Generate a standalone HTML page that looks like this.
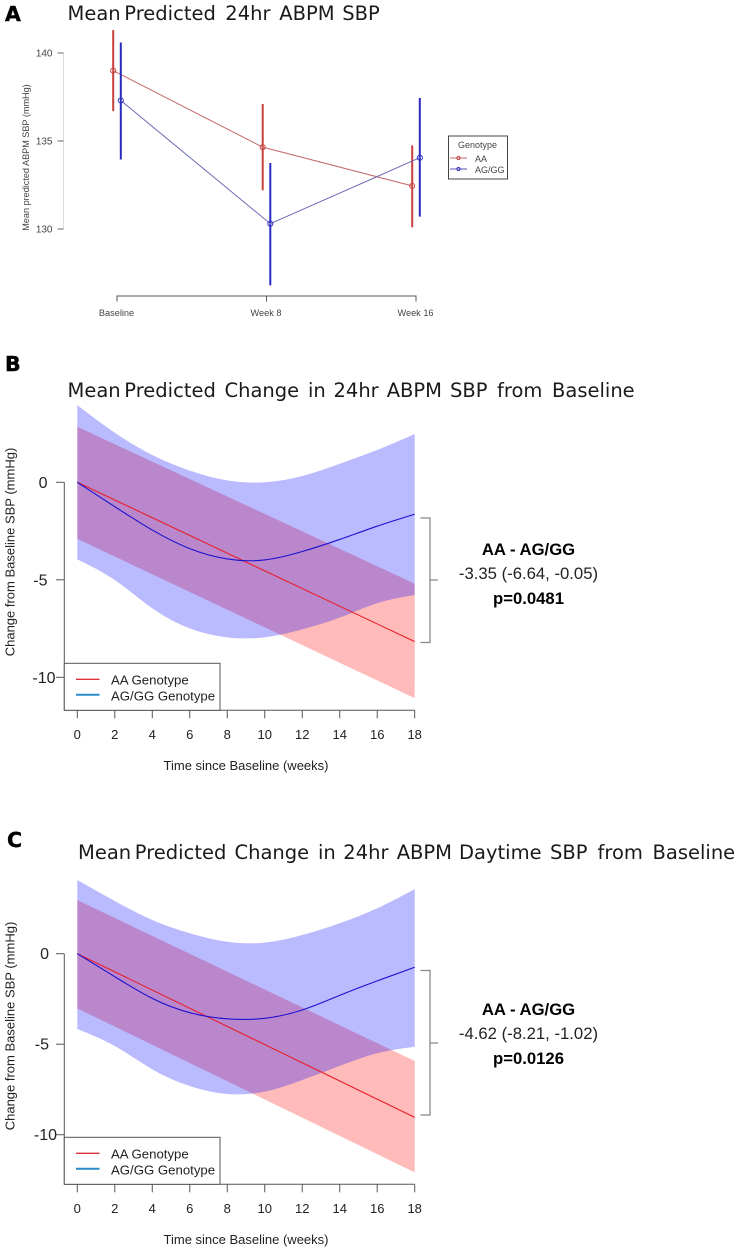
<!DOCTYPE html>
<html lang="en">
<head>
<meta charset="utf-8">
<title>Mean Predicted ABPM SBP by Genotype</title>
<style>
  html, body { margin: 0; padding: 0; background: #fff; }
  svg { display: block; }
  text { font-family: "Liberation Sans", Arial, sans-serif; }
  .title { font-family: "DejaVu Sans", Verdana, sans-serif; font-size: 19.5px; fill: #1a1a1a; }
  .letter { font-family: "DejaVu Sans", Verdana, sans-serif; font-weight: bold; font-size: 20.5px; fill: #000; stroke: #000; stroke-width: 0.4px; }
  .note { font-size: 16.7px; fill: #222; text-anchor: middle; }
  .note-b { font-weight: bold; fill: #000; }
</style>
</head>
<body>
<svg id="figure" xmlns="http://www.w3.org/2000/svg" width="738" height="1254" viewBox="0 0 738 1254">
  <rect x="0" y="0" width="738" height="1254" fill="#fff"/>

  <text class="letter" x="5" y="21">A</text>
  <text class="title" y="20"><tspan x="67.5">Mean </tspan><tspan x="124.3">Predicted </tspan><tspan x="225.3">24hr </tspan><tspan x="279.3">ABPM </tspan><tspan x="342.3">SBP</tspan></text>

  <text class="letter" x="5" y="371">B</text>
  <text class="title" y="397"><tspan x="67.5">Mean </tspan><tspan x="124.3">Predicted </tspan><tspan x="224.5">Change </tspan><tspan x="308">in </tspan><tspan x="333.5">24hr </tspan><tspan x="386.7">ABPM </tspan><tspan x="450">SBP </tspan><tspan x="497">from </tspan><tspan x="552">Baseline</tspan></text>

  <text class="letter" x="7" y="847">C</text>
  <text class="title" y="859"><tspan x="78">Mean </tspan><tspan x="134.8">Predicted </tspan><tspan x="234.5">Change </tspan><tspan x="318">in </tspan><tspan x="343.3">24hr </tspan><tspan x="396.7">ABPM </tspan><tspan x="459">Daytime </tspan><tspan x="550">SBP </tspan><tspan x="597.5">from </tspan><tspan x="652.5">Baseline</tspan></text>

  <g id="panel-a"></g>
  <g id="panel-b"></g>
  <g id="panel-c"></g>

  <text class="note note-b" x="528.5" y="555">AA - AG/GG</text>
  <text class="note" x="528.5" y="579">-3.35 (-6.64, -0.05)</text>
  <text class="note note-b" x="528.5" y="604">p=0.0481</text>

  <text class="note note-b" x="528.5" y="1015">AA - AG/GG</text>
  <text class="note" x="528.5" y="1039">-4.62 (-8.21, -1.02)</text>
  <text class="note note-b" x="528.5" y="1064">p=0.0126</text>
</svg>

<script>
// Panel A data
const aVisits = ['Baseline', 'Week 8', 'Week 16'];
const aYTicks = [130, 135, 140];
const aMeanAA = [139.0, 134.65, 132.45];
const aHighAA = [141.3, 137.1, 134.75];
const aLowAA = [136.7, 132.2, 130.1];
const aMeanAG = [137.3, 130.3, 134.05];
const aHighAG = [140.6, 133.75, 137.45];
const aLowAG = [133.95, 126.8, 130.7];

// Shared time axis for panels B and C
const timeTicks = [0, 2, 4, 6, 8, 10, 12, 14, 16, 18];
const lineWeeks = [0, 18];
const curveWeeks = [0, 2, 4, 6, 8, 10, 12, 14, 16, 18];

// Panel B data
const bYTicks = [0, -5, -10];
const bMeanAA = [0, -8.17];
const bHighAA = [2.85, -5.2];
const bLowAA = [-2.9, -11.07];
const bMeanAG = [0, -1.25, -2.45, -3.4, -3.93, -3.98, -3.55, -2.93, -2.25, -1.64];
const bHighAG = [3.96, 2.54, 1.4, 0.6, 0.1, 0, 0.32, 0.95, 1.66, 2.48];
const bLowAG = [-3.95, -5.01, -6.46, -7.49, -7.95, -7.95, -7.54, -6.94, -6.2, -5.78];

// Panel C data
const cYTicks = [0, -5, -10];
const cMeanAA = [0, -9.04];
const cHighAA = [2.96, -5.93];
const cLowAA = [-3.02, -12.08];
const cMeanAG = [0, -1.27, -2.47, -3.26, -3.6, -3.57, -3.11, -2.3, -1.5, -0.75];
const cHighAG = [4.07, 2.91, 1.86, 1.13, 0.66, 0.61, 1.03, 1.68, 2.51, 3.57];
const cLowAG = [-4.16, -5.1, -6.39, -7.31, -7.75, -7.62, -6.98, -6.2, -5.5, -5.14];

const SVG_NS = 'http://www.w3.org/2000/svg';

function make(parent, tag, attrs, text) {
  const el = document.createElementNS(SVG_NS, tag);
  for (const key in attrs) el.setAttribute(key, attrs[key]);
  if (text !== undefined) el.textContent = text;
  parent.appendChild(el);
  return el;
}

// Natural cubic spline through the points, emitted as bezier segments
function smoothSegments(points) {
  const n = points.length;
  if (n === 2) return 'L' + points[1][0] + ' ' + points[1][1];
  const h = [], d = [];
  for (let i = 0; i < n - 1; i++) {
    h.push(points[i + 1][0] - points[i][0]);
    d.push((points[i + 1][1] - points[i][1]) / h[i]);
  }
  const c = new Array(n).fill(0), r = new Array(n).fill(0), M = new Array(n).fill(0);
  for (let i = 1; i < n - 1; i++) {
    const diag = 2 * (h[i - 1] + h[i]) - h[i - 1] * c[i - 1];
    c[i] = h[i] / diag;
    r[i] = (6 * (d[i] - d[i - 1]) - h[i - 1] * r[i - 1]) / diag;
  }
  for (let i = n - 2; i > 0; i--) M[i] = r[i] - c[i] * M[i + 1];
  let path = '';
  for (let i = 0; i < n - 1; i++) {
    const m0 = d[i] - h[i] * (2 * M[i] + M[i + 1]) / 6;
    const m1 = d[i] + h[i] * (M[i] + 2 * M[i + 1]) / 6;
    const t = h[i] / 3;
    path += 'C' + (points[i][0] + t) + ' ' + (points[i][1] + m0 * t) + ' ' +
      (points[i + 1][0] - t) + ' ' + (points[i + 1][1] - m1 * t) + ' ' +
      points[i + 1][0] + ' ' + points[i + 1][1];
  }
  return path;
}

function linePath(points) {
  return 'M' + points[0][0] + ' ' + points[0][1] + smoothSegments(points);
}

function bandPath(upper, lower) {
  const back = lower.slice().reverse();
  return linePath(upper) + 'L' + back[0][0] + ' ' + back[0][1] + smoothSegments(back) + 'Z';
}

function zip(xs, ys, xFn, yFn) {
  return xs.map((x, i) => [xFn(x), yFn(ys[i])]);
}

/* ---------- Panel A ---------- */
(function () {
  const g = document.getElementById('panel-a');
  const xIdx = i => 117 + i * 149.5;
  const yVal = v => 53 + (140 - v) * 17.6;
  const axisColor = '#555';

  const yAxis = make(g, 'path', {
    d: 'M63.5 ' + yVal(aYTicks[0]) + 'V' + yVal(aYTicks[aYTicks.length - 1]),
    stroke: '#ddd', 'stroke-width': 1, fill: 'none'
  });
  
  

  aYTicks.forEach(t => {
    const tick = make(g, 'line', { x1: 57.5, x2: 63.5, y1: yVal(t), y2: yVal(t), stroke: axisColor, 'stroke-width': 0.9 });
    
    
    const label = make(g, 'text', { x: 52.5, y: yVal(t) + 3.5, 'text-anchor': 'end', 'font-size': 10, fill: '#444' }, String(t));
    
    
  });

  const yTitle = make(g, 'text', {
    transform: 'translate(29 157.5) rotate(-90)', 'text-anchor': 'middle', 'font-size': 9.1, fill: '#444'
  }, 'Mean predicted ABPM SBP (mmHg)');
  
  

  const xAxis = make(g, 'path', {
    d: 'M' + xIdx(0) + ' 301.5V296H' + xIdx(aVisits.length - 1) + 'V301.5', stroke: axisColor, 'stroke-width': 1, fill: 'none'
  });
  
  

  aVisits.forEach((name, i) => {
    if (i === 1) {
      const tick = make(g, 'line', { x1: xIdx(i), x2: xIdx(i), y1: 296, y2: 301.5, stroke: axisColor, 'stroke-width': 1 });
      
      
    }
    const label = make(g, 'text', { x: xIdx(i) - 0.5, y: 316, 'text-anchor': 'middle', 'font-size': 9.2, fill: '#444' }, name);
    
    
  });

  function series(key, mean, high, low, offset, barColor, lineColor) {
    const pts = mean.map((v, i) => [xIdx(i) + offset, yVal(v)]);
    high.forEach((v, i) => {
      const bar = make(g, 'line', {
        x1: pts[i][0], x2: pts[i][0], y1: yVal(v), y2: yVal(low[i]), stroke: barColor, 'stroke-width': 2
      });
      
      
    });
    const line = make(g, 'polyline', {
      points: pts.map(p => p.join(',')).join(' '), fill: 'none', stroke: lineColor, 'stroke-width': 1
    });
    
    
    pts.forEach(p => {
      const dot = make(g, 'circle', { cx: p[0], cy: p[1], r: 2.6, fill: 'none', stroke: barColor, 'stroke-width': 0.9 });
      
      
    });
  }
  series('aa', aMeanAA, aHighAA, aLowAA, -3.8, '#c8403c', '#c46a68');
  series('ag-gg', aMeanAG, aHighAG, aLowAG, 3.8, '#2a2ac0', '#6a6ab4');

  const legend = make(g, 'g', {});
  
  
  make(legend, 'rect', { x: 448.5, y: 136, width: 59, height: 43, fill: '#fff', stroke: '#444', 'stroke-width': 1 });
  make(legend, 'text', { x: 477.5, y: 148, 'text-anchor': 'middle', 'font-size': 9, fill: '#444' }, 'Genotype');
  make(legend, 'line', { x1: 450, x2: 467, y1: 158, y2: 158, stroke: '#c46a68', 'stroke-width': 1 });
  make(legend, 'circle', { cx: 458.5, cy: 158, r: 1.6, fill: 'none', stroke: '#c8403c', 'stroke-width': 0.9 });
  make(legend, 'text', { x: 475, y: 162, 'font-size': 9, fill: '#444' }, 'AA');
  make(legend, 'line', { x1: 450, x2: 467, y1: 169, y2: 169, stroke: '#5a5ab8', 'stroke-width': 1 });
  make(legend, 'circle', { cx: 458.5, cy: 169, r: 1.6, fill: 'none', stroke: '#2a2ac0', 'stroke-width': 0.9 });
  make(legend, 'text', { x: 475, y: 173, 'font-size': 9, fill: '#444' }, 'AG/GG');
})();

/* ---------- Panels B and C ---------- */
function changePanel(opts) {
  const g = document.getElementById(opts.id);
  const p = opts.prefix;
  const xT = t => 77.3 + t * (414.7 - 77.3) / 18;
  const yV = v => opts.y0 - v * opts.scale;
  const axisColor = '#555';

  const bandAA = make(g, 'path', {
    d: bandPath(zip(lineWeeks, opts.highAA, xT, yV), zip(lineWeeks, opts.lowAA, xT, yV)),
    fill: 'rgb(255,0,0)', 'fill-opacity': 0.27
  });
  
  

  const bandAG = make(g, 'path', {
    d: bandPath(zip(curveWeeks, opts.highAG, xT, yV), zip(curveWeeks, opts.lowAG, xT, yV)),
    fill: 'rgb(0,0,255)', 'fill-opacity': 0.27
  });
  
  

  const lineAA = make(g, 'path', {
    d: linePath(zip(lineWeeks, opts.meanAA, xT, yV)), fill: 'none', stroke: '#e8202c', 'stroke-width': 1.1
  });
  
  

  const lineAG = make(g, 'path', {
    d: linePath(zip(curveWeeks, opts.meanAG, xT, yV)), fill: 'none', stroke: '#1c10d0', 'stroke-width': 1.1
  });
  
  

  const top = yV(opts.yTicks[0]);
  const yAxis = make(g, 'line', { x1: 64.3, x2: 64.3, y1: top, y2: opts.axisY, stroke: axisColor, 'stroke-width': 1 });
  
  

  opts.yTicks.forEach(t => {
    const tick = make(g, 'line', { x1: 56, x2: 64.3, y1: yV(t), y2: yV(t), stroke: axisColor, 'stroke-width': 1 });
    
    
    const labelX = opts.yLabelX + (Math.abs(t) >= 10 ? 8 : 0);
    const label = make(g, 'text', { x: labelX, y: yV(t) + 5.5, 'text-anchor': 'end', 'font-size': 16, fill: '#222' }, String(t));
    
    
  });

  const yTitle = make(g, 'text', {
    transform: 'translate(14.5 ' + opts.yTitleMid + ') rotate(-90)', 'text-anchor': 'middle', 'font-size': 13, fill: '#222'
  }, 'Change from Baseline SBP (mmHg)');
  
  

  const xAxis = make(g, 'line', { x1: 64.3, x2: xT(18), y1: opts.axisY, y2: opts.axisY, stroke: axisColor, 'stroke-width': 1 });
  
  

  timeTicks.forEach(t => {
    const tick = make(g, 'line', { x1: xT(t), x2: xT(t), y1: opts.axisY, y2: opts.axisY + 8, stroke: axisColor, 'stroke-width': 1 });
    
    
    const label = make(g, 'text', { x: xT(t), y: opts.axisY + 28.5, 'text-anchor': 'middle', 'font-size': 13, fill: '#222' }, String(t));
    
    
  });

  const xTitle = make(g, 'text', {
    x: 246, y: opts.axisY + 59.5, 'text-anchor': 'middle', 'font-size': 13, fill: '#222'
  }, 'Time since Baseline (weeks)');
  
  

  const legend = make(g, 'g', {});
  
  
  const ly = opts.axisY - 47;
  make(legend, 'rect', { x: 64.3, y: ly, width: 155.7, height: 47, fill: '#fff', stroke: axisColor, 'stroke-width': 1 });
  make(legend, 'line', { x1: 76, x2: 99.5, y1: ly + 16, y2: ly + 16, stroke: '#e0303c', 'stroke-width': 1.4 });
  make(legend, 'text', { x: 111, y: ly + 21, 'font-size': 13.2, fill: '#222' }, 'AA Genotype');
  make(legend, 'line', { x1: 76, x2: 99.5, y1: ly + 31.5, y2: ly + 31.5, stroke: '#2a8cc8', 'stroke-width': 2 });
  make(legend, 'text', { x: 111, y: ly + 37, 'font-size': 13.2, fill: '#222' }, 'AG/GG Genotype');

  const bracket = make(g, 'path', {
    d: 'M420.5 ' + opts.brTop + 'H430V' + opts.brBottom + 'H420.5M430 ' + opts.brMid + 'H438',
    fill: 'none', stroke: '#888', 'stroke-width': 1.3
  });
  
  
}

changePanel({
  id: 'panel-b', prefix: 'panel-b', y0: 482.3, scale: 19.5, axisY: 710.3,
  yTicks: bYTicks, yLabelX: 47.5, yTitleMid: 552,
  meanAA: bMeanAA, highAA: bHighAA, lowAA: bLowAA,
  meanAG: bMeanAG, highAG: bHighAG, lowAG: bLowAG,
  brTop: 518, brBottom: 642.5, brMid: 580
});
changePanel({
  id: 'panel-c', prefix: 'panel-c', y0: 953.7, scale: 18.1, axisY: 1184.3,
  yTicks: cYTicks, yLabelX: 49, yTitleMid: 1026,
  meanAA: cMeanAA, highAA: cHighAA, lowAA: cLowAA,
  meanAG: cMeanAG, highAG: cHighAG, lowAG: cLowAG,
  brTop: 970.5, brBottom: 1115, brMid: 1043
});
</script>
</body>
</html>
